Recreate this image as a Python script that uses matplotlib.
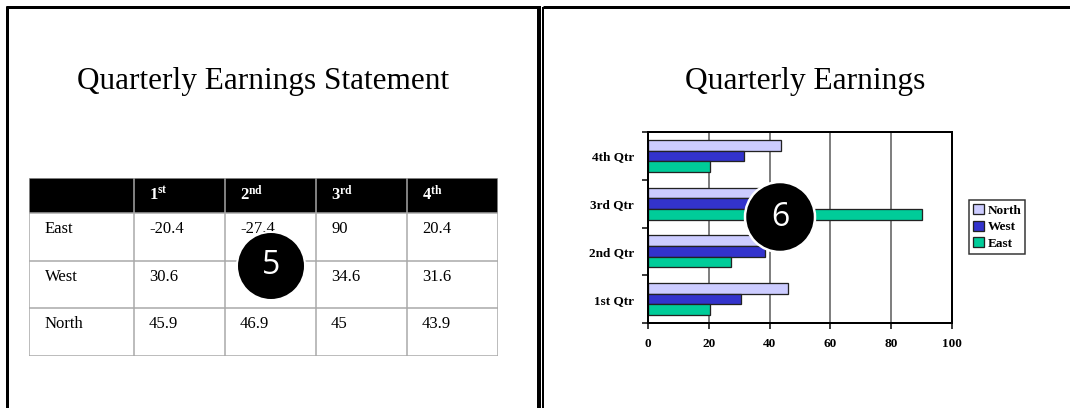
import matplotlib
matplotlib.use("Agg")
import matplotlib.pyplot as plt
from matplotlib.patches import Rectangle, Circle
from matplotlib.lines import Line2D
import numpy as np

# ---------------- data ----------------
quarter_nums = ['1', '2', '3', '4']
quarter_sfx = ['st', 'nd', 'rd', 'th']
table_regions = ['East', 'West', 'North']
table_east = [-20.4, -27.4, 90, 20.4]
table_west = [30.6, 38.6, 34.6, 31.6]
table_north = [45.9, 46.9, 45, 43.9]

chart_cats = ['1st Qtr', '2nd Qtr', '3rd Qtr', '4th Qtr']
chart_north = [45.9, 46.9, 45, 43.9]
chart_west = [30.6, 38.6, 34.6, 31.6]
chart_east = [20.4, 27.4, 90, 20.4]
series_names = ['North', 'West', 'East']
series_colors = ['#CCCCFF', '#3333CC', '#00CC99']
x_ticks = [0, 20, 40, 60, 80, 100]

# ---------------- layout ----------------
W, H = 1070, 408
plt.rcParams['mathtext.fontset'] = 'custom'
plt.rcParams['mathtext.bf'] = 'Liberation Serif:bold'
plt.rcParams['mathtext.rm'] = 'Liberation Serif'
SERIF = 'Liberation Serif'

fig = plt.figure(figsize=(W / 100, H / 100), dpi=100)
fig.patch.set_facecolor('white')


def fx(x):
    return x / W


def fy(y):
    return 1 - y / H


def pxlw(p):
    return p * 72 / 100


def line(x0, y0, x1, y1, w, c='black'):
    fig.add_artist(Line2D([fx(x0), fx(x1)], [fy(y0), fy(y1)], transform=fig.transFigure,
                          lw=pxlw(w), color=c, solid_capstyle='butt'))


# slide borders
line(7, 6, 7, H, 3)
line(6, 7, 540, 7, 3)
line(539, 6, 539, H, 4)
line(543.3, 7, 543.3, H, 2)
line(542.5, 7, W, 7, 3)

# titles
fig.text(fx(263), fy(89), 'Quarterly Earnings Statement', fontsize=22.5, family=SERIF,
         ha='center', va='baseline')
fig.text(fx(805), fy(89), 'Quarterly Earnings', fontsize=22.7, family=SERIF,
         ha='center', va='baseline')

# ---------------- table ----------------
tx0, ty0, tx1, ty1 = 29, 178, 498, 356
ax_t = fig.add_axes([fx(tx0), fy(ty1), (tx1 - tx0) / W, (ty1 - ty0) / H])
ax_t.set_xlim(0, tx1 - tx0)
ax_t.set_ylim(ty1 - ty0, 0)
ax_t.axis('off')
col_edges = [0, 105, 196, 287, 378, 469]
row_edges = [0, 35, 83, 130, 178]
ax_t.add_patch(Rectangle((0, 0), col_edges[-1], row_edges[1], facecolor='black',
                         edgecolor='none', zorder=1))
gc = '#A8A8A8'
for x in col_edges:
    ax_t.plot([x, x], [row_edges[0], row_edges[-1]], color=gc, lw=pxlw(1.5), zorder=2,
              solid_capstyle='butt')
for y in row_edges:
    ax_t.plot([col_edges[0], col_edges[-1]], [y, y], color=gc, lw=pxlw(1.5), zorder=2,
              solid_capstyle='butt')

for j, (n, s) in enumerate(zip(quarter_nums, quarter_sfx)):
    ax_t.text(col_edges[j + 1] + 15, row_edges[0] + 7, r'$\mathbf{%s^{%s}}$' % (n, s),
              color='white', fontsize=12, va='top', ha='left', zorder=3)

rows = [table_east, table_west, table_north]
for i, (name, vals) in enumerate(zip(table_regions, rows)):
    ytop = row_edges[i + 1] + 8
    ax_t.text(col_edges[0] + 16, ytop, name, family=SERIF, fontsize=12, va='top', ha='left')
    for j, v in enumerate(vals):
        ax_t.text(col_edges[j + 1] + 15, ytop, f'{v:g}', family=SERIF, fontsize=12,
                  va='top', ha='left')

# ---------------- bar chart ----------------
ax = fig.add_axes([fx(648), fy(323), (952 - 648) / W, (323 - 132) / H])
ypos = np.arange(len(chart_cats))
bh = 0.224
for k, (vals, col, name) in enumerate(zip([chart_north, chart_west, chart_east],
                                          series_colors, series_names)):
    ax.barh(ypos + (1 - k) * bh, vals, height=bh, color=col, edgecolor='#222222',
            linewidth=pxlw(1.3), label=name, zorder=3)
ax.set_xlim(0, 100)
ax.set_ylim(-0.5, len(chart_cats) - 0.5)
ax.set_xticks(x_ticks)
ax.set_xticklabels([str(t) for t in x_ticks], family=SERIF, fontweight='bold', fontsize=9.5)
ax.set_yticks(ypos)
ax.set_yticklabels(chart_cats, family=SERIF, fontweight='bold', fontsize=9.5)
ax.set_yticks(np.arange(-0.5, len(chart_cats), 1.0), minor=True)
ax.tick_params(axis='y', which='major', length=0, pad=10)
ax.tick_params(axis='y', which='minor', length=4, width=pxlw(1.5), direction='out')
ax.tick_params(axis='x', which='major', length=4, width=pxlw(1.5), direction='out', pad=7)
ax.grid(axis='x', color='#808080', lw=pxlw(2), zorder=0)
ax.set_axisbelow(True)
for sp in ax.spines.values():
    sp.set_color('black')
    sp.set_linewidth(pxlw(2))
    sp.set_zorder(4)

leg = fig.legend(loc='upper left', bbox_to_anchor=(fx(969), fy(200)),
                 bbox_transform=fig.transFigure, frameon=True, fancybox=False,
                 prop={'family': SERIF, 'weight': 'bold', 'size': 9.5},
                 handlelength=0.8, handleheight=0.8, handletextpad=0.3,
                 labelspacing=0.3, borderpad=0.3, borderaxespad=0)
leg.get_frame().set_edgecolor('black')
leg.get_frame().set_linewidth(pxlw(1.5))

# ---------------- numbered circles ----------------
fig.add_artist(Circle((271 / 100, (H - 266) / 100), 0.34, transform=fig.dpi_scale_trans,
                      facecolor='black', edgecolor='white', lw=pxlw(2), zorder=10))
fig.text(fx(271), fy(266), '5', color='white', fontsize=23, family='Open Sans',
         ha='center', va='center', zorder=11)
fig.add_artist(Circle((780 / 100, (H - 217) / 100), 0.35, transform=fig.dpi_scale_trans,
                      facecolor='black', edgecolor='white', lw=pxlw(2.5), zorder=10))
fig.text(fx(780), fy(217), '6', color='white', fontsize=23, family='Open Sans',
         ha='center', va='center', zorder=11)

fig.savefig('out.png', dpi=100)
